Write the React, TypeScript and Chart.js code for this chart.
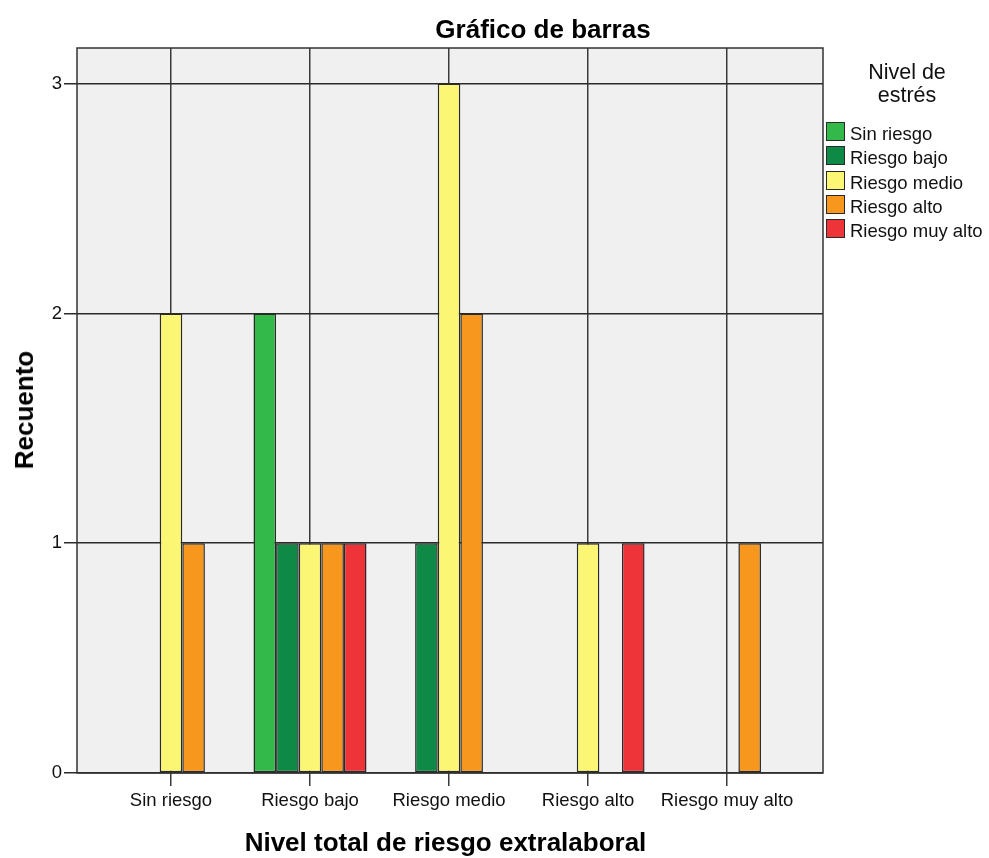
import React, { useEffect, useRef } from "react";
import { Chart, registerables } from "chart.js";

Chart.register(...registerables);

const categories = ["Sin riesgo", "Riesgo bajo", "Riesgo medio", "Riesgo alto", "Riesgo muy alto"];
const seriesNames = ["Sin riesgo", "Riesgo bajo", "Riesgo medio", "Riesgo alto", "Riesgo muy alto"];
const sinRiesgo = [0, 2, 0, 0, 0];
const riesgoBajo = [0, 1, 1, 0, 0];
const riesgoMedio = [2, 1, 3, 1, 0];
const riesgoAlto = [1, 1, 2, 0, 1];
const riesgoMuyAlto = [0, 1, 0, 1, 0];
const seriesColors = ["#33B94A", "#0F8A46", "#FBF674", "#F7971D", "#EE3339"];
const yTickValues = [0, 1, 2, 3];

const FONT = "'Liberation Sans', Arial, sans-serif";

export default function App() {
  const canvasRef = useRef<HTMLCanvasElement | null>(null);

  useEffect(() => {
    document.body.style.margin = "0";
    const canvas = canvasRef.current;
    if (!canvas) return;
    const allSeries = [sinRiesgo, riesgoBajo, riesgoMedio, riesgoAlto, riesgoMuyAlto];

    const bgPlugin = {
      id: "spssBg",
      beforeDraw(chart: any) {
        const { ctx, chartArea } = chart;
        ctx.save();
        ctx.fillStyle = "#F0F0F0";
        ctx.fillRect(chartArea.left, chartArea.top, chartArea.right - chartArea.left, chartArea.bottom - chartArea.top);
        ctx.restore();
      },
      afterDatasetsDraw(chart: any) {
        const { ctx, chartArea } = chart;
        ctx.save();
        ctx.strokeStyle = "#333";
        ctx.lineWidth = 1.5;
        ctx.strokeRect(chartArea.left, chartArea.top, chartArea.right - chartArea.left, chartArea.bottom - chartArea.top);
        ctx.restore();
      },
    };

    const chart = new Chart(canvas, {
      type: "bar",
      data: {
        datasets: allSeries.map((vals, si) => ({
          label: seriesNames[si],
          data: vals.map((v, i) => ({ x: i, y: v === 0 ? null : v })) as any,
          backgroundColor: seriesColors[si],
          borderColor: "#2a2a2a",
          borderWidth: 1.5,
          borderSkipped: false,
          categoryPercentage: 0.813,
          barPercentage: 1,
        })),
      },
      options: {
        animation: false,
        responsive: false,
        layout: { padding: { top: 48, right: 166, left: 0, bottom: 0 } },
        plugins: {
          legend: { display: false },
          title: { display: false },
          tooltip: { enabled: false },
        },
        scales: {
          x: {
            type: "linear",
            offset: false,
            min: -0.676,
            max: 4.69,
            afterFit(scale: any) {
              scale.height = 85;
            },
            afterBuildTicks(scale: any) {
              scale.ticks = categories.map((_, i) => ({ value: i }));
            },
            grid: {
              offset: false,
              color: "#3a3a3a",
              lineWidth: 1.5,
              tickLength: 13,
              tickColor: "#3a3a3a",
            },
            border: { display: false },
            ticks: {
              autoSkip: false,
              maxRotation: 0,
              padding: 4,
              color: "#111",
              font: { family: FONT, size: 18.5 },
              callback: (v: any) => categories[Math.round(Number(v))] ?? "",
            },
          },
          y: {
            type: "linear",
            min: 0,
            max: 3.155,
            afterFit(scale: any) {
              scale.width = 77;
            },
            afterBuildTicks(scale: any) {
              scale.ticks = yTickValues.map((v) => ({ value: v }));
            },
            grid: {
              color: "#2a2a2a",
              lineWidth: 1.5,
              tickLength: 13,
              tickColor: "#2a2a2a",
            },
            border: { display: false },
            ticks: {
              padding: 2,
              color: "#111",
              font: { family: FONT, size: 18.5 },
              callback: (v: any) => String(v),
            },
          },
        },
      },
      plugins: [bgPlugin],
    });
    return () => chart.destroy();
  }, []);

  const boldTitle: React.CSSProperties = {
    position: "absolute",
    fontFamily: FONT,
    fontWeight: "bold",
    fontSize: 26,
    lineHeight: "26px",
    whiteSpace: "nowrap",
    color: "#000",
  };

  return (
    <div style={{ position: "relative", width: 989, height: 858, background: "#fff", overflow: "hidden" }}>
      <canvas ref={canvasRef} width={989} height={858} style={{ width: 989, height: 858, display: "block" }} />
      <div style={{ ...boldTitle, left: 543, top: 16, transform: "translateX(-50%)" }}>Gráfico de barras</div>
      <div style={{ ...boldTitle, left: 445.5, top: 829, transform: "translateX(-50%)" }}>
        Nivel total de riesgo extralaboral
      </div>
      <div
        style={{
          ...boldTitle,
          left: 24,
          top: 410,
          transform: "translate(-50%, -50%) rotate(-90deg)",
        }}
      >
        Recuento
      </div>
      <div
        style={{
          position: "absolute",
          left: 907,
          top: 61,
          transform: "translateX(-50%)",
          fontFamily: FONT,
          fontSize: 21.5,
          lineHeight: "23px",
          textAlign: "center",
          color: "#111",
          whiteSpace: "nowrap",
        }}
      >
        Nivel de
        <br />
        estrés
      </div>
      {seriesNames.map((name, i) => (
        <div key={name} style={{ position: "absolute", left: 826, top: 122 + i * 24.3, height: 19 }}>
          <div
            style={{
              position: "absolute",
              left: 0,
              top: 0,
              width: 19,
              height: 19,
              boxSizing: "border-box",
              border: "1.5px solid #2a2a2a",
              background: seriesColors[i],
            }}
          />
          <div
            style={{
              position: "absolute",
              left: 24,
              top: 2,
              fontFamily: FONT,
              fontSize: 18.5,
              lineHeight: "19px",
              whiteSpace: "nowrap",
              color: "#111",
            }}
          >
            {name}
          </div>
        </div>
      ))}
    </div>
  );
}
